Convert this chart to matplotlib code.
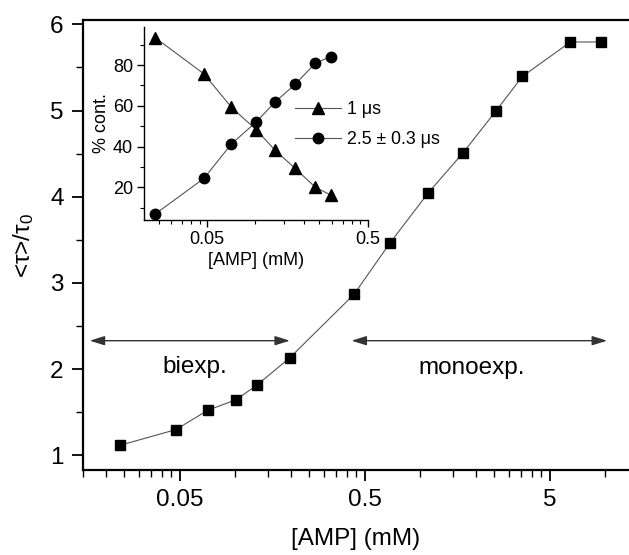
import matplotlib
matplotlib.use("Agg")
import matplotlib.pyplot as plt
from matplotlib.ticker import FixedLocator, FixedFormatter, NullFormatter

plt.rcParams['font.family'] = ['Liberation Sans', 'DejaVu Sans']
plt.rcParams['mathtext.fontset'] = 'custom'
plt.rcParams['mathtext.rm'] = 'Liberation Sans'
plt.rcParams['mathtext.it'] = 'Liberation Sans'

# ---- main data ----
amp_main = [0.0237, 0.0476, 0.0707, 0.101, 0.1315, 0.197, 0.4375,
            0.682, 1.10, 1.69, 2.55, 3.56, 6.47, 9.51]
tau_ratio = [1.116, 1.298, 1.522, 1.646, 1.820, 2.133, 2.868,
             3.459, 4.043, 4.503, 4.991, 5.397, 5.795, 5.795]

# ---- inset data ----
amp_inset = [0.0238, 0.0479, 0.0710, 0.1016, 0.1323, 0.177, 0.236, 0.295]
cont_1us = [93.5, 75.7, 59.3, 48.2, 38.3, 29.3, 20.1, 16.2]
cont_25us = [6.9, 24.4, 41.3, 52.2, 61.8, 70.6, 80.9, 84.2]

main_xticks = [0.05, 0.5, 5]
main_xticklabels = ['0.05', '0.5', '5']
inset_xticks = [0.05, 0.5]
inset_xticklabels = ['0.05', '0.5']

minor_pos = [m * 10.0 ** e for e in range(-3, 3) for m in (1, 1.5, 2, 2.5, 3, 3.5, 4, 4.5)]

fig = plt.figure(figsize=(6.29, 5.55), dpi=100)
ax = fig.add_axes([83 / 629, 1 - 470 / 555, 546 / 629, 450 / 555])

ax.plot(amp_main, tau_ratio, color='#555555', lw=0.8, marker='s', ms=7.5,
        mfc='black', mec='black', zorder=3)
ax.set_xscale('log')
ax.set_xlim(0.015, 13.4)
ax.set_ylim(0.83, 6.05)
ax.xaxis.set_major_locator(FixedLocator(main_xticks))
ax.xaxis.set_major_formatter(FixedFormatter(main_xticklabels))
ax.xaxis.set_minor_locator(FixedLocator(minor_pos))
ax.xaxis.set_minor_formatter(NullFormatter())
ax.set_yticks([1, 2, 3, 4, 5, 6])
ax.set_yticks([1.5, 2.5, 3.5, 4.5, 5.5], minor=True)
ax.tick_params(which='major', direction='out', length=8, width=1.3, labelsize=17.5, pad=6)
ax.tick_params(which='minor', direction='out', length=5, width=1.0)
ax.spines['right'].set_visible(False)
for s in ('left', 'top', 'bottom'):
    ax.spines[s].set_linewidth(1.6)
ax.set_xlabel('[AMP] (mM)', fontsize=17.5, labelpad=12)
ax.set_ylabel('<τ>/τ$_0$', fontsize=17.5, labelpad=10)

arrow_kw = dict(arrowstyle='<|-|>,head_length=0.9,head_width=0.28', color='#333333',
                lw=1.0, shrinkA=0, shrinkB=0, mutation_scale=10)
ax.annotate('', xy=(0.197, 2.33), xytext=(0.0163, 2.33), arrowprops=arrow_kw)
ax.annotate('', xy=(10.2, 2.33), xytext=(0.424, 2.33), arrowprops=arrow_kw)
ax.text(0.0603, 2.02, 'biexp.', fontsize=17.5, ha='center', va='center')
ax.text(1.89, 2.01, 'monoexp.', fontsize=17.5, ha='center', va='center')

# ---- inset ----
ins = fig.add_axes([144 / 629, 1 - 220 / 555, 223.7 / 629, 193 / 555])
ins.set_facecolor('none')
ins.plot(amp_inset, cont_1us, color='#555555', lw=0.8, marker='^', ms=8.5,
         mfc='black', mec='black', label='1 μs')
ins.plot(amp_inset, cont_25us, color='#555555', lw=0.8, marker='o', ms=7.5,
         mfc='black', mec='black', label='2.5 ± 0.3 μs')
ins.set_xscale('log')
ins.set_xlim(0.0203, 0.5)
ins.set_ylim(4, 98.7)
ins.xaxis.set_major_locator(FixedLocator(inset_xticks))
ins.xaxis.set_major_formatter(FixedFormatter(inset_xticklabels))
ins.xaxis.set_minor_locator(FixedLocator(minor_pos))
ins.xaxis.set_minor_formatter(NullFormatter())
ins.set_yticks([20, 40, 60, 80])
ins.set_yticks([10, 30, 50, 70, 90], minor=True)
ins.tick_params(which='major', direction='out', length=5, width=1.0, labelsize=13, pad=3)
ins.tick_params(which='minor', direction='out', length=3, width=0.8)
ins.spines['right'].set_visible(False)
ins.spines['top'].set_visible(False)
for s in ('left', 'bottom'):
    ins.spines[s].set_linewidth(1.0)
ins.set_xlabel('[AMP] (mM)', fontsize=13, labelpad=3)
ins.set_ylabel('% cont.', fontsize=13, labelpad=2)
ins.legend(loc='upper left', bbox_to_anchor=(295 / 629, 1 - 101 / 555),
           bbox_transform=fig.transFigure, frameon=False, fontsize=12.8,
           handlelength=2.6, handletextpad=0.3, labelspacing=0.75,
           borderpad=0, borderaxespad=0)

fig.savefig('out.png', dpi=100)
